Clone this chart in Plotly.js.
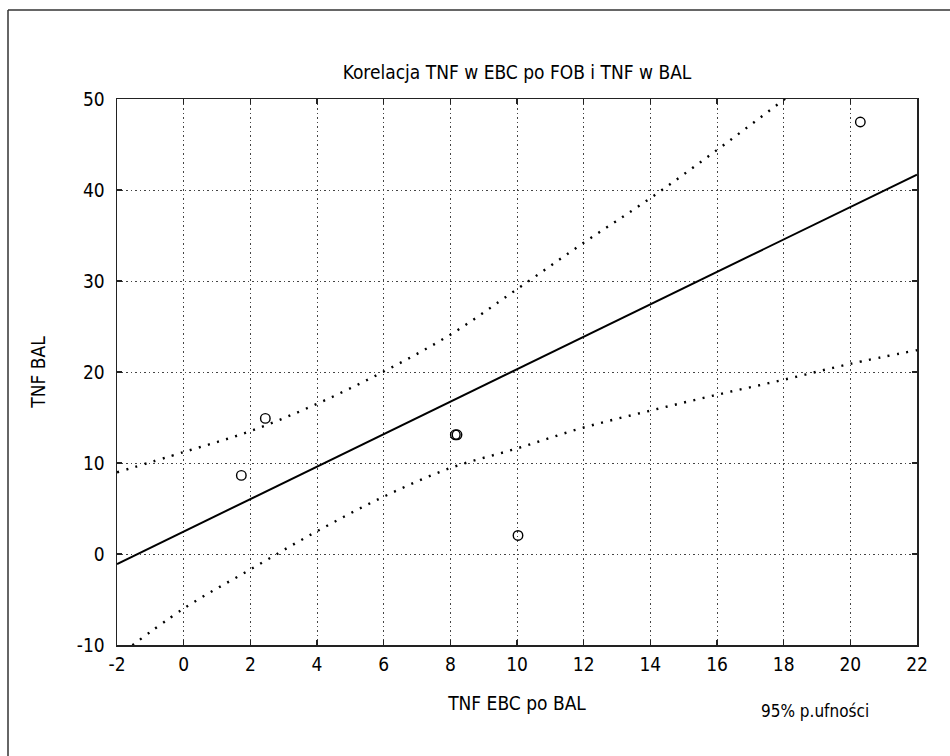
<!DOCTYPE html>
<html>
<head>
<meta charset="utf-8">
<script src="https://cdn.plot.ly/plotly-3.0.1.min.js"></script>
<style>
  html, body { margin: 0; padding: 0; background: #fff; }
  #chart { width: 950px; height: 756px; }
</style>
</head>
<body>
<div id="chart"></div>
<script>
// Observations: TNF in EBC after BAL (x) vs TNF in BAL (y)
const pointsX = [1.73, 2.45, 8.15, 8.2, 10.03, 20.3];
const pointsY = [8.64, 14.9, 13.1, 13.1, 2.04, 47.47];

// Fitted regression line (end points)
const fitX = [-2, 22];
const fitY = [-1.1, 41.7];

// 95% confidence band, sampled along the x axis
const bandX = [-2, 0, 2, 4, 6, 8, 10, 12, 14, 16, 18, 20, 22];
const bandUpper = [8.97, 11.2, 13.5, 16.5, 20.05, 24.1, 29.1, 34.2, 39.1, 44.4, 49.9, 55.4, 61.0];
const bandLower = [-11.3, -6.0, -1.7, 2.5, 6.3, 9.45, 11.6, 13.9, 15.75, 17.5, 19.15, 20.9, 22.4];

const xTicks = [-2, 0, 2, 4, 6, 8, 10, 12, 14, 16, 18, 20, 22];
const yTicks = [-10, 0, 10, 20, 30, 40, 50];

const FONT = '"DejaVu Sans Condensed", "Liberation Sans Narrow", "Arial Narrow", sans-serif';

const traces = [
  {
    x: bandX, y: bandUpper, mode: 'lines', type: 'scatter',
    line: { color: '#000', width: 2.4, dash: '2px,7.5px', shape: 'spline' },
    hoverinfo: 'skip', showlegend: false
  },
  {
    x: bandX, y: bandLower, mode: 'lines', type: 'scatter',
    line: { color: '#000', width: 2.4, dash: '2px,7.5px', shape: 'spline' },
    hoverinfo: 'skip', showlegend: false
  },
  {
    x: fitX, y: fitY, mode: 'lines', type: 'scatter',
    line: { color: '#000', width: 2 },
    showlegend: false
  },
  {
    x: pointsX, y: pointsY, mode: 'markers', type: 'scatter',
    marker: { symbol: 'circle-open', size: 9.5, color: '#000', line: { width: 1.4, color: '#000' } },
    showlegend: false
  }
];

const axisCommon = {
  showline: true, linecolor: '#222', linewidth: 1.5, mirror: 'ticks',
  ticks: 'inside', ticklen: 5, tickcolor: '#222', tickwidth: 1.5,
  showgrid: true, gridcolor: '#444', gridwidth: 1, griddash: '1.5px,3px',
  zeroline: false,
  tickfont: { family: FONT, size: 19, color: '#000' }
};

const layout = {
  width: 950, height: 756,
  margin: { l: 117, r: 33, t: 99, b: 111 },
  paper_bgcolor: '#fff', plot_bgcolor: '#fff',
  title: {
    text: 'Korelacja TNF w EBC po FOB i TNF w BAL',
    font: { family: FONT, size: 19, color: '#000' },
    x: 0.5, xref: 'paper', y: 1 - 72 / 756, yanchor: 'middle'
  },
  xaxis: Object.assign({}, axisCommon, {
    range: [-2, 22], tickvals: xTicks, ticktext: xTicks.map(String),
    ticklabelstandoff: 2,
    title: { text: 'TNF EBC po BAL', font: { family: FONT, size: 19, color: '#000' }, standoff: 22 }
  }),
  yaxis: Object.assign({}, axisCommon, {
    range: [-10, 50], tickvals: yTicks, ticktext: yTicks.map(String),
    ticklabelstandoff: 7,
    title: { text: 'TNF BAL', font: { family: FONT, size: 19, color: '#000' }, standoff: 26 }
  }),
  annotations: [
    {
      text: '95% p.ufności', xref: 'paper', yref: 'paper',
      x: 0.8725, y: -0.121, xanchor: 'center', yanchor: 'middle', showarrow: false,
      font: { family: FONT, size: 17, color: '#000' }
    }
  ],
  shapes: [
    // outer frame (top and left edges)
    { type: 'line', xref: 'paper', yref: 'paper', x0: -0.13625, x1: 1.05, y0: 1.163, y1: 1.163,
      line: { color: '#333', width: 1.5 } },
    { type: 'line', xref: 'paper', yref: 'paper', x0: -0.13625, x1: -0.13625, y0: 1.163, y1: -0.21,
      line: { color: '#333', width: 1.5 } }
  ]
};

Plotly.newPlot('chart', traces, layout, { displayModeBar: false, staticPlot: true });
</script>
</body>
</html>
